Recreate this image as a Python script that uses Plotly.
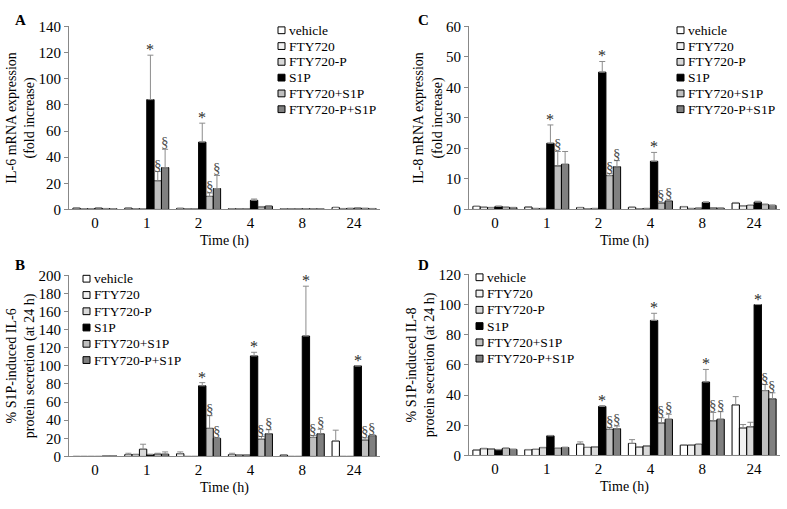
import plotly.graph_objects as go

# ---------------- data ----------------
times = ["0", "1", "2", "4", "8", "24"]
series = ["vehicle", "FTY720", "FTY720-P", "S1P", "FTY720+S1P", "FTY720-P+S1P"]
colors = ["#ffffff", "#f2f2f2", "#d9d9d9", "#000000", "#bfbfbf", "#808080"]

# Panel A: IL-6 mRNA (fold increase)
A_vals = [
    [1.0, 1.0, 0.8, 0.6, 0.5, 1.5],
    [0.6, 0.6, 0.4, 0.4, 0.4, 0.7],
    [0.6, 0.6, 0.4, 0.4, 0.4, 0.8],
    [1.0, 84.0, 51.5, 7.0, 0.6, 1.0],
    [0.7, 22.0, 10.0, 2.0, 0.5, 0.8],
    [0.6, 32.0, 16.0, 2.5, 0.4, 0.7],
]
A_err = [
    [0.2, 0.2, 0.2, 0.1, 0.1, 0.3],
    [0.1, 0.1, 0.1, 0.1, 0.1, 0.1],
    [0.1, 0.1, 0.1, 0.1, 0.1, 0.1],
    [0.2, 34.0, 14.5, 1.0, 0.1, 0.2],
    [0.1, 7.0, 2.6, 0.3, 0.1, 0.1],
    [0.1, 14.0, 10.0, 0.5, 0.1, 0.1],
]
A_star = [0, 1, 1, 0, 0, 0]
A_sec1 = [0, 1, 1, 0, 0, 0]
A_sec2 = [0, 1, 1, 0, 0, 0]

# Panel C: IL-8 mRNA (fold increase)
C_vals = [
    [1.0, 0.8, 0.6, 0.7, 0.9, 2.1],
    [0.7, 0.3, 0.2, 0.2, 0.3, 1.2],
    [0.6, 0.3, 0.3, 0.3, 0.4, 1.3],
    [1.0, 21.7, 45.0, 15.8, 2.3, 2.4],
    [0.7, 14.3, 11.1, 2.1, 0.5, 1.6],
    [0.6, 14.8, 14.0, 2.8, 0.4, 1.3],
]
C_err = [
    [0.1, 0.1, 0.1, 0.1, 0.1, 0.2],
    [0.1, 0.1, 0.1, 0.1, 0.1, 0.1],
    [0.1, 0.1, 0.1, 0.1, 0.1, 0.2],
    [0.1, 6.0, 3.5, 2.9, 0.2, 0.3],
    [0.1, 4.7, 0.6, 0.2, 0.1, 0.2],
    [0.1, 4.2, 2.0, 0.2, 0.1, 0.2],
]
C_star = [0, 1, 1, 1, 0, 0]
C_sec1 = [0, 1, 1, 1, 0, 0]
C_sec2 = [0, 0, 1, 1, 0, 0]

# Panel B: % S1P-induced IL-6 protein secretion
B_vals = [
    [0.0, 2.0, 3.0, 2.0, 1.5, 17.0],
    [0.0, 2.0, 0.0, 1.5, 0.0, 0.0],
    [0.0, 8.0, 0.0, 1.5, 0.0, 0.0],
    [0.0, 2.0, 78.0, 111.0, 133.0, 100.0],
    [0.5, 2.5, 31.0, 19.0, 21.0, 18.0],
    [0.5, 2.5, 20.0, 25.0, 25.0, 23.0],
]
B_err = [
    [0.0, 1.5, 2.0, 1.5, 0.5, 12.0],
    [0.0, 0.5, 0.0, 0.5, 0.0, 0.0],
    [0.0, 5.5, 0.0, 0.5, 0.0, 0.0],
    [0.0, 0.5, 3.5, 4.0, 55.0, 0.0],
    [0.0, 1.0, 14.0, 3.0, 2.0, 2.5],
    [0.0, 2.5, 0.5, 4.5, 5.0, 1.0],
]
B_star = [0, 0, 1, 1, 1, 1]
B_sec1 = [0, 0, 1, 1, 1, 1]
B_sec2 = [0, 0, 1, 1, 1, 1]

# Panel D: % S1P-induced IL-8 protein secretion
D_vals = [
    [3.6, 3.8, 7.5, 8.0, 6.8, 33.5],
    [4.5, 4.0, 5.3, 5.5, 6.8, 18.2],
    [4.3, 5.2, 5.7, 6.3, 7.3, 19.0],
    [3.8, 13.0, 32.5, 89.5, 48.7, 100.0],
    [4.7, 4.7, 17.3, 21.5, 23.0, 43.0],
    [4.0, 5.3, 17.7, 24.0, 24.0, 37.5],
]
D_err = [
    [0.2, 0.2, 1.5, 2.5, 0.2, 5.5],
    [0.3, 0.2, 0.2, 0.2, 0.2, 2.3],
    [0.2, 0.2, 0.2, 0.2, 0.4, 3.0],
    [0.2, 0.3, 0.5, 4.7, 8.3, 0.0],
    [0.3, 0.2, 1.2, 3.5, 5.5, 4.0],
    [0.2, 0.2, 1.8, 3.3, 5.0, 4.0],
]
D_star = [0, 0, 1, 1, 1, 1]
D_sec1 = [0, 0, 1, 1, 1, 1]
D_sec2 = [0, 0, 1, 1, 1, 1]

# ---------------- figure ----------------
FONT = "Liberation Serif, Times New Roman, serif"
W, H = 787, 509
BARGAP = 0.15
NB = len(series)
xpos = list(range(len(times)))


def bar_offset(i):
    bw = (1 - BARGAP) / NB
    return -(1 - BARGAP) / 2 + (i + 0.5) * bw


panels = [
    ("A", A_vals, A_err, A_star, A_sec1, A_sec2, "", 140, 20,
     "IL-6 mRNA expression<br>(fold increase)"),
    ("C", C_vals, C_err, C_star, C_sec1, C_sec2, "2", 60, 10,
     "IL-8 mRNA expression<br>(fold increase)"),
    ("B", B_vals, B_err, B_star, B_sec1, B_sec2, "3", 200, 20,
     "% S1P-induced IL-6<br>protein secretion (at 24 h)"),
    ("D", D_vals, D_err, D_star, D_sec1, D_sec2, "4", 120, 20,
     "% S1P-induced IL-8<br>protein secretion (at 24 h)"),
]

# pixel boxes of the plot areas: (x0, x1, ytop, ybottom)
boxes = {
    "A": (69, 380, 19, 208),
    "C": (469, 780, 19, 208),
    "B": (69, 380, 276, 463),
    "D": (469, 780, 275, 462),
}
# legend: (square left x, first row centre y, row step)
legend_pos = {
    "A": (278, 23, 16.3),
    "C": (677, 23, 16.3),
    "B": (83, 279.5, 16.8),
    "D": (476, 278, 16.8),
}
letter_pos = {"A": (20, 12), "C": (423, 12), "B": (20, 265), "D": (423, 265)}

fig = go.Figure()
annotations = []
shapes = []
layout = {}


def px_x(v):
    return v / W


def px_y(v):
    return (H - v) / H


for key, vals, err, star, sec1, sec2, sfx, ymax, dtick, ytitle in panels:
    xa = "x" + sfx
    ya = "y" + sfx
    for i, name in enumerate(series):
        fig.add_trace(go.Bar(
            x=xpos, y=vals[i], name=name, legendgroup=name,
            marker=dict(color=colors[i], line=dict(color="#000000", width=1)),
            error_y=dict(type="data", array=err[i], arrayminus=[0] * len(times),
                         symmetric=False, color="#8c8c8c", thickness=1, width=3),
            xaxis=xa, yaxis=ya, showlegend=False,
        ))
    # significance marks
    for t in range(len(times)):
        if star[t]:
            annotations.append(dict(
                x=t + bar_offset(3), y=vals[3][t] + err[3][t], xref=xa, yref=ya,
                text="*", showarrow=False, yanchor="bottom", yshift=-5,
                font=dict(family=FONT, size=16, color="#2b2b2b")))
        for flag, idx in ((sec1[t], 4), (sec2[t], 5)):
            if flag:
                annotations.append(dict(
                    x=t + bar_offset(idx), y=vals[idx][t] + err[idx][t], xref=xa, yref=ya,
                    text="§", showarrow=False, yanchor="bottom", yshift=-3,
                    font=dict(family=FONT, size=15, color="#505050")))
    x0, x1, yt, yb = boxes[key]
    layout["xaxis" + sfx] = dict(
        domain=[px_x(x0), px_x(x1)], anchor=ya, range=[-0.5, len(times) - 0.5],
        tickmode="array", tickvals=xpos, ticktext=times,
        showline=True, linecolor="#888888", linewidth=1, ticks="",
        showgrid=False, zeroline=False,
        tickfont=dict(family=FONT, size=15, color="#000000"),
        title=dict(text="Time (h)", font=dict(family=FONT, size=14, color="#000000"), standoff=4),
    )
    layout["yaxis" + sfx] = dict(
        domain=[px_y(yb), px_y(yt)], anchor=xa, range=[0, ymax], dtick=dtick,
        showline=True, linecolor="#888888", linewidth=1, ticks="outside",
        ticklen=4, tickcolor="#888888", showgrid=False, zeroline=False,
        tickfont=dict(family=FONT, size=15, color="#000000"),
        title=dict(text=ytitle, font=dict(family=FONT, size=14, color="#000000"), standoff=0),
    )
    # legend (drawn as swatches + text labels)
    lx, ly, step = legend_pos[key]
    for i, name in enumerate(series):
        cy = ly + i * step
        shapes.append(dict(
            type="rect", xref="paper", yref="paper",
            x0=px_x(lx), x1=px_x(lx + 7), y0=px_y(cy + 3.5), y1=px_y(cy - 3.5),
            fillcolor=colors[i], line=dict(color="#000000", width=1)))
        annotations.append(dict(
            x=px_x(lx + 9), y=px_y(cy), xref="paper", yref="paper", text=name,
            showarrow=False, xanchor="left", yanchor="middle",
            font=dict(family=FONT, size=13.5, color="#000000")))
    px, py = letter_pos[key]
    annotations.append(dict(
        x=px_x(px), y=px_y(py), xref="paper", yref="paper", text="<b>%s</b>" % key,
        showarrow=False, xanchor="center", yanchor="middle",
        font=dict(family=FONT, size=15, color="#000000")))

fig.update_layout(
    width=W, height=H,
    margin=dict(l=0, r=0, t=0, b=0),
    paper_bgcolor="#ffffff", plot_bgcolor="#ffffff",
    barmode="group", bargap=BARGAP, bargroupgap=0,
    annotations=annotations, shapes=shapes,
    showlegend=False,
    font=dict(family=FONT, size=14, color="#000000"),
    **layout,
)

fig.write_html("out.html", config={"displayModeBar": False},
               post_script="document.body.style.margin='0px';")
